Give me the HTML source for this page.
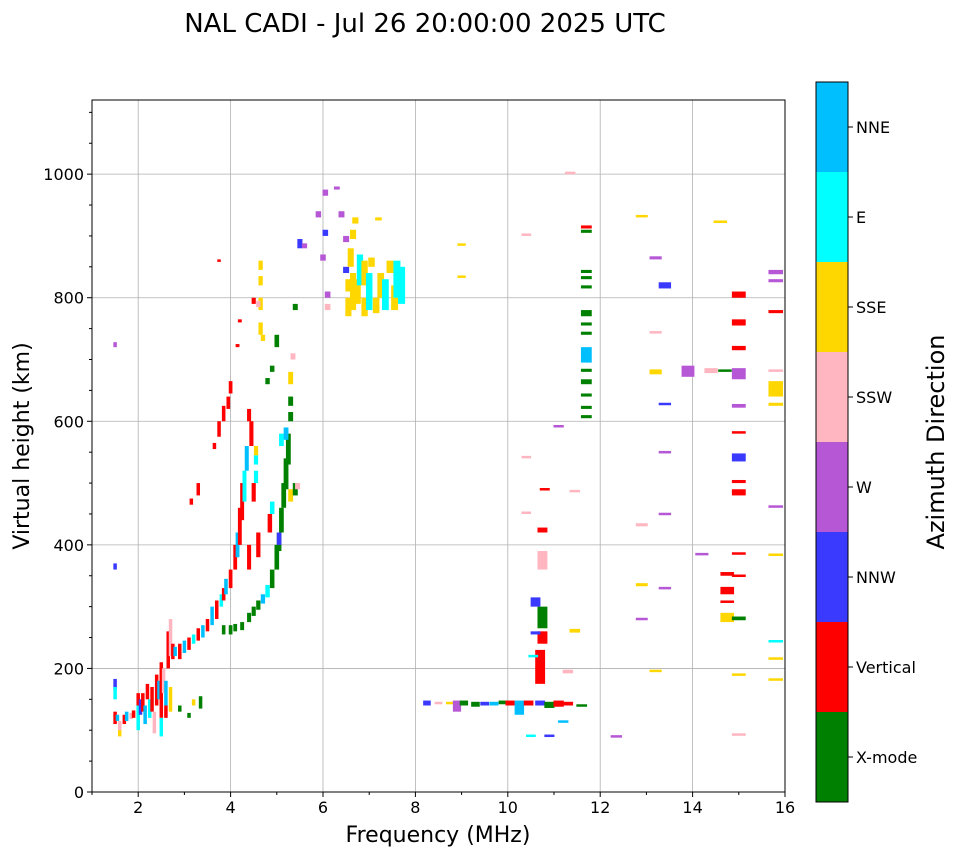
<!DOCTYPE html>
<html><head><meta charset="utf-8">
<style>
html,body{margin:0;padding:0;background:#fff;}
svg{display:block;font-family:"DejaVu Sans","Liberation Sans",sans-serif;}
</style></head>
<body>
<svg id="chart" width="958" height="857" viewBox="0 0 958 857" xmlns="http://www.w3.org/2000/svg">
<text x="425" y="32" font-size="26" text-anchor="middle">NAL CADI - Jul 26 20:00:00 2025 UTC</text>
<g id="grid"></g>
<g id="marks"></g>
<rect x="92" y="100" width="693" height="692" fill="none" stroke="#000" stroke-width="1"/>
<g id="axes"></g>
<text x="438" y="842" font-size="22" text-anchor="middle">Frequency (MHz)</text>
<text transform="translate(29,446) rotate(-90)" font-size="22" text-anchor="middle">Virtual height (km)</text>
<g id="colorbar"></g>
<text transform="translate(944,442) rotate(-90)" font-size="24" text-anchor="middle">Azimuth Direction</text>
</svg>
<script>
// ---- data ----
const directions = ["X-mode","Vertical","NNW","W","SSW","SSE","E","NNE"];
const dirColors = ["#008000","#ff0000","#3a3aff","#b657d6","#ffb6c1","#ffd700","#00ffff","#00bfff"];
const xTicks = [2,4,6,8,10,12,14,16];
const yTicks = [0,200,400,600,800,1000];
// each echo: [frequency MHz, height low km, height high km, direction index]
const echoes = [
[1.5,360,370,2],[1.5,720,728,3],[1.5,165,183,2],[1.5,150,170,6],[1.5,110,130,1],[1.55,115,125,7],[1.6,90,110,5],[1.6,100,115,4],[1.7,110,125,1],[1.75,115,130,7],[1.85,118,128,4],[1.9,120,132,1],[2.0,100,140,6],[2.0,140,160,1],[2.05,125,150,2],[2.1,130,160,1],[2.15,110,140,7],[2.2,150,175,1],[2.25,120,150,6],[2.3,130,170,1],[2.35,95,130,4],[2.4,140,190,1],[2.45,150,180,7],[2.5,120,210,1],[2.5,90,120,6],[2.55,160,200,4],[2.6,140,180,7],[2.6,120,140,1],[2.65,200,260,1],[2.7,220,280,4],[2.7,130,170,5],[2.75,215,240,1],[2.8,220,235,7],[2.9,215,240,1],[2.9,130,140,0],[3.0,225,245,7],[3.1,230,250,1],[3.1,120,128,0],[3.2,240,255,6],[3.2,140,150,5],[3.35,135,155,0],[3.3,245,265,1],[3.4,250,270,7],[3.5,260,280,1],[3.6,270,300,7],[3.7,280,310,1],[3.8,300,320,6],[3.85,310,330,1],[3.9,320,345,7],[4.0,330,360,1],[4.1,360,400,1],[4.15,380,420,7],[4.2,400,460,1],[4.25,440,500,1],[4.3,470,520,6],[4.35,520,560,7],[4.4,360,400,1],[4.45,560,600,1],[4.4,600,620,1],[3.15,465,475,1],[3.3,480,500,1],[3.65,555,565,1],[3.75,575,600,1],[3.85,600,625,1],[3.95,620,640,1],[4.0,645,665,1],[4.15,720,725,1],[4.2,760,765,1],[3.75,858,862,1],[4.5,790,800,1],
[4.65,740,760,5],[4.65,780,800,5],[4.65,820,835,5],[4.65,845,860,5],[4.7,730,740,5],[4.6,785,795,4],[4.55,500,520,6],[4.55,530,545,6],[4.55,545,560,5],[4.5,470,500,1],[4.6,380,420,1],
[3.85,255,270,0],[4.0,255,270,0],[4.1,260,272,0],[4.25,262,275,0],[4.4,275,290,0],[4.5,285,300,0],[4.6,295,310,0],[4.7,305,320,7],[4.8,315,335,6],[4.9,330,360,0],[5.0,360,400,0],[5.05,390,420,0],[5.1,420,460,0],[5.15,460,500,0],[5.2,490,540,0],[5.25,530,580,0],[5.3,600,615,0],[5.3,625,640,0],[5.3,660,680,5],[5.35,700,710,4],[5.4,780,790,0],[5.0,720,740,0],[4.9,680,690,0],[4.8,660,670,0],[5.3,470,490,5],[5.4,480,500,0],[5.45,490,500,4],[5.1,560,580,6],[5.05,400,420,2],[4.85,420,450,1],[4.9,450,470,6],[5.2,570,590,7],
[6.05,965,975,3],[6.05,900,910,2],[6.0,860,870,3],[6.3,975,980,3],[6.4,930,940,3],[6.5,890,900,3],[6.5,840,850,2],[6.55,770,800,5],[6.55,810,830,5],[6.65,780,840,5],[6.75,790,830,5],[6.6,850,880,5],[6.65,895,910,5],[6.7,920,930,5],[6.8,820,870,6],[6.9,770,800,5],[6.9,820,860,5],[7.0,780,840,6],[7.05,850,865,5],[7.15,775,800,5],[7.25,800,840,5],[7.35,780,830,6],[7.45,840,860,5],[7.55,780,820,5],[7.6,800,860,6],[7.7,790,850,6],[7.2,925,930,5],[5.9,930,940,3],[5.5,880,895,2],[5.6,880,888,3],[6.1,800,810,3],[6.1,780,790,4],
[8.25,140,148,2],[8.5,142,146,4],[8.75,142,146,5],[8.9,130,148,3],[9.05,140,148,0],[9.3,138,146,0],[9.5,140,146,2],[9.7,140,146,7],[9.9,142,148,0],[10.05,140,148,1],[10.25,125,148,7],[10.45,140,148,1],[10.7,140,148,2],[10.9,136,146,0],[11.1,138,148,1],[11.2,112,116,7],[11.3,140,146,1],[11.6,140,142,0],[10.5,90,93,6],[10.9,90,93,2],[9.0,885,888,5],[9.0,832,836,5],[10.4,900,904,4],[10.4,540,544,4],[10.4,450,454,4],[10.8,488,492,1],[11.1,590,594,3],[11.35,1000,1004,4],[11.45,485,489,4],[11.45,258,264,5],[11.3,192,198,4],[12.35,88,92,3],
[10.7,175,230,1],[10.75,265,300,0],[10.75,240,260,1],[10.6,300,315,2],[10.6,255,260,2],[10.75,360,390,4],[10.75,420,428,1],[10.55,218,222,6],
[11.7,605,610,0],[11.7,620,625,0],[11.7,640,645,0],[11.7,660,668,0],[11.7,680,685,0],[11.7,695,720,7],[11.7,740,745,0],[11.7,755,760,0],[11.7,770,780,0],[11.7,815,820,0],[11.7,830,835,0],[11.7,840,845,0],[11.7,905,910,0],[11.7,912,917,1],
[12.9,930,934,5],[12.9,430,435,4],[12.9,333,338,5],[12.9,278,282,3],[13.2,195,198,5],[13.2,862,867,3],[13.2,742,746,4],[13.2,676,684,5],[13.4,815,825,2],[13.4,626,630,2],[13.4,548,552,3],[13.4,448,452,3],[13.4,328,332,3],[13.9,672,690,3],[14.2,383,387,3],[14.4,678,686,4],[14.6,922,925,5],[14.7,680,684,0],[14.75,350,356,1],[14.75,320,332,1],[14.75,306,310,1],[14.75,275,290,5],[15.0,800,810,1],[15.0,755,765,1],[15.0,715,722,1],[15.0,668,686,3],[15.0,622,628,3],[15.0,580,584,1],[15.0,535,548,2],[15.0,480,490,1],[15.0,500,505,1],[15.0,384,388,1],[15.0,350,352,1],[15.0,278,284,0],[15.0,188,192,5],[15.0,92,95,4],
[15.8,838,845,3],[15.8,825,830,3],[15.8,775,780,1],[15.8,682,684,4],[15.8,640,665,5],[15.8,625,630,5],[15.8,460,464,3],[15.8,382,386,5],[15.8,242,246,6],[15.8,215,218,5],[15.8,180,184,5]
];
// ---- scales ----
const X0=92,X1=785,Y0=792,Y1=100;
const fx=f=>X0+(f-1)/(16-1)*(X1-X0);
const fy=h=>Y0-h/1120*(Y0-Y1);
const NS="http://www.w3.org/2000/svg";
function mk(tag,attrs,parent){const e=document.createElementNS(NS,tag);for(const k in attrs)e.setAttribute(k,attrs[k]);parent.appendChild(e);return e;}
const grid=document.getElementById('grid'),axes=document.getElementById('axes'),marks=document.getElementById('marks'),cb=document.getElementById('colorbar');
xTicks.forEach(t=>{
  const x=fx(t);
  const gl=mk('line',{x1:x,x2:x,y1:Y1,y2:Y0,stroke:'#b0b0b0','stroke-width':0.8},grid);
  
  
  mk('line',{x1:x,x2:x,y1:Y0,y2:Y0+5,stroke:'#000'},axes);
  const tx=mk('text',{x:x,y:Y0+21,'font-size':16,'text-anchor':'middle'},axes);
  tx.textContent=t;
  
  
});
for(let m=1;m<16;m+=2){const x=fx(m);mk('line',{x1:x,x2:x,y1:Y0,y2:Y0+3,stroke:'#000'},axes);}
yTicks.forEach(t=>{
  const y=fy(t);
  const gl=mk('line',{x1:X0,x2:X1,y1:y,y2:y,stroke:'#b0b0b0','stroke-width':0.8},grid);
  
  
  mk('line',{x1:X0-5,x2:X0,y1:y,y2:y,stroke:'#000'},axes);
  const tx=mk('text',{x:X0-8,y:y+6,'font-size':16,'text-anchor':'end'},axes);
  tx.textContent=t;
  
  
});
for(let m=50;m<1120;m+=50){if(m%200===0)continue;const y=fy(m);mk('line',{x1:X0-3,x2:X0,y1:y,y2:y,stroke:'#000'},axes);}
echoes.forEach(d=>{
  const f=d[0],w=Math.max(3.5,0.02*f*(X1-X0)/15);
  const x=Math.max(X0,fx(f)-w/2),xe=Math.min(X1,fx(f)+w/2);
  const y=fy(d[2]),h=Math.max(2.5,fy(d[1])-fy(d[2]));
  const r=mk('rect',{x:x,y:y,width:xe-x,height:h,fill:dirColors[d[3]]},marks);
  
  
});
// colorbar
const CBX=816,CBY=82,CBH=720,CBW=32,band=CBH/8;
directions.forEach((n,i)=>{
  const y=CBY+CBH-(i+1)*band;
  const r=mk('rect',{x:CBX,y:y,width:CBW,height:band,fill:dirColors[i]},cb);
  
  
  const cy=y+band/2;
  mk('line',{x1:CBX+CBW,x2:CBX+CBW+5,y1:cy,y2:cy,stroke:'#000'},cb);
  const t=mk('text',{x:CBX+CBW+8,y:cy+6,'font-size':16},cb);
  t.textContent=n;
  
  
});
mk('rect',{x:CBX,y:CBY,width:CBW,height:CBH,fill:'none',stroke:'#000','stroke-width':1},cb);
</script>
</body></html>
